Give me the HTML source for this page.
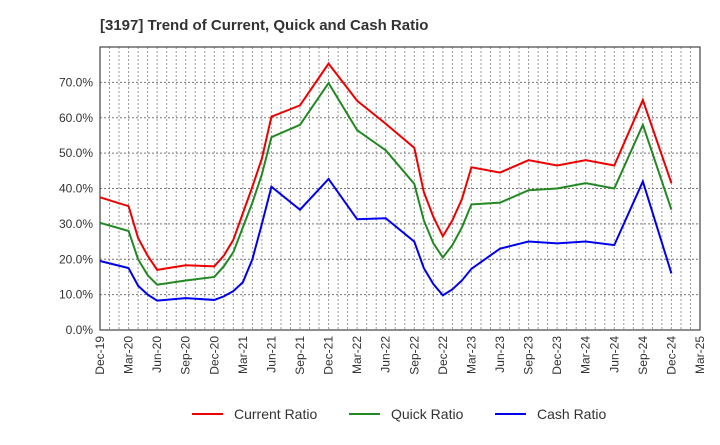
<!DOCTYPE html>
<html><head><meta charset="utf-8"><style>
body{margin:0;background:#fff;font-family:"Liberation Sans",sans-serif}
</style></head><body>
<svg id="c" width="720" height="440" xmlns="http://www.w3.org/2000/svg" font-family="Liberation Sans, sans-serif">
<text x="100" y="30" font-size="15" font-weight="bold" fill="#333">[3197]  Trend of Current, Quick and Cash Ratio</text>
<g id="grid"></g><g id="axes"></g><g id="series"></g><g id="legend"></g>
</svg>
<script>
const months=[0,3,4,5,6,9,12,13,14,15,16,17,18,21,24,27,30,33,34,35,36,37,38,39,42,45,48,51,54,57,60];
const currentRatio=[37.5,35,26,21,17,18.3,18,21,25.5,33,40.5,48.5,60.3,63.5,75.3,64.8,58.3,51.5,39,32,26.5,31,37,46,44.5,48,46.5,48,46.5,65,41.5];
const quickRatio=[30.3,28,20,15.5,12.8,14,15,18,22,29,36,44,54.5,58,69.8,56.5,50.8,41.3,31,24.5,20.5,24,29,35.5,36,39.5,40,41.5,40,58,34];
const cashRatio=[19.5,17.5,12.5,10,8.3,9,8.5,9.5,11,13.5,20,30,40.5,34,42.7,31.3,31.6,25,17.5,13,9.8,11.5,14,17.3,23,25,24.5,25,24,42,16];
const yTicks=[0,10,20,30,40,50,60,70];
const xLabels=["Dec-19","Mar-20","Jun-20","Sep-20","Dec-20","Mar-21","Jun-21","Sep-21","Dec-21","Mar-22","Jun-22","Sep-22","Dec-22","Mar-23","Jun-23","Sep-23","Dec-23","Mar-24","Jun-24","Sep-24","Dec-24","Mar-25"];
const X0=100,X1=700,Y0=330,Y1=47,YMAX=80,MMAX=63;
const xs=m=>X0+(X1-X0)*m/MMAX, ys=v=>Y0-(Y0-Y1)*v/YMAX;
const NS="http://www.w3.org/2000/svg";
function mk(t,a,p){const e=document.createElementNS(NS,t);for(const k in a)e.setAttribute(k,a[k]);p.appendChild(e);return e;}
const grid=document.getElementById('grid'),axes=document.getElementById('axes'),ser=document.getElementById('series'),leg=document.getElementById('legend');
for(let m=1;m<MMAX;m++){const l=mk('line',{x1:xs(m),x2:xs(m),y1:Y1,y2:Y0,stroke:'#999','stroke-width':1,'stroke-dasharray':'2,2'},grid);

}
yTicks.forEach(v=>{if(v>0){const l=mk('line',{x1:X0,x2:X1,y1:ys(v),y2:ys(v),stroke:'#777','stroke-width':1,'stroke-dasharray':'2,2'},grid);

}
const t=mk('text',{x:X0-7,y:ys(v)+4,'text-anchor':'end','font-size':12,fill:'#333'},axes);t.textContent=v.toFixed(1)+'%';

});
const fr=mk('rect',{x:X0,y:Y1,width:X1-X0,height:Y0-Y1,fill:'none',stroke:'#444','stroke-width':1.2},axes);


xLabels.forEach((s,i)=>{const x=xs(i*3);const t=mk('text',{transform:`translate(${x+4},336) rotate(-90)`,'text-anchor':'end','font-size':12,fill:'#333'},axes);t.textContent=s;

});
[[currentRatio,'#ee0000','current-ratio-line','Current Ratio'],[quickRatio,'#228822','quick-ratio-line','Quick Ratio'],[cashRatio,'#0000ee','cash-ratio-line','Cash Ratio']].forEach((s,i)=>{
const p=mk('polyline',{points:s[0].map((v,j)=>xs(months[j])+','+ys(v)).join(' '),fill:'none',stroke:s[1],'stroke-width':2},ser);


const lx=[192,349,495][i];
const g=mk('g',{},leg);


mk('line',{x1:lx,x2:lx+31,y1:414,y2:414,stroke:s[1],'stroke-width':2},g);
const t=mk('text',{x:lx+42,y:419,'font-size':14,fill:'#333'},g);t.textContent=s[3];});
</script>
</body></html>
